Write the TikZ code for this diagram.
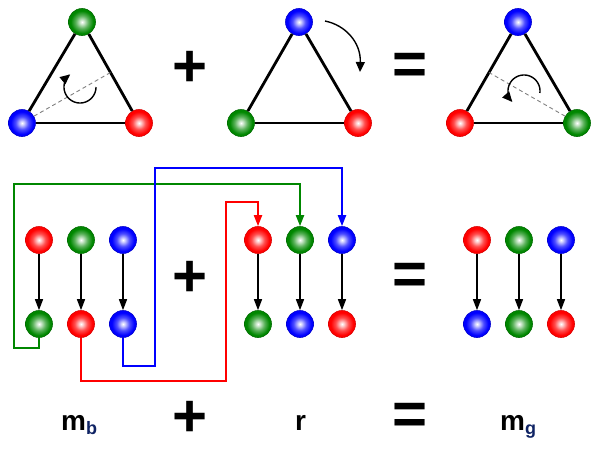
\documentclass[tikz,border=0pt]{standalone}
\usepackage{fontspec}
\setmainfont{Liberation Sans}
\usetikzlibrary{arrows.meta,calc}
\definecolor{bred}{RGB}{255,0,0}
\definecolor{bgreen}{RGB}{0,135,0}
\definecolor{bblue}{RGB}{0,0,255}
\definecolor{subc}{RGB}{15,35,100}
\pgfdeclareradialshading{redball}{\pgfpoint{0bp}{0bp}}{color(0bp)=(white); color(3bp)=(white!85!bred); color(12bp)=(bred!70!white); color(21bp)=(bred); color(50bp)=(bred)}
\pgfdeclareradialshading{greenball}{\pgfpoint{0bp}{0bp}}{color(0bp)=(white); color(3bp)=(white!85!bgreen); color(12bp)=(bgreen!65!white); color(21bp)=(bgreen); color(50bp)=(bgreen)}
\pgfdeclareradialshading{blueball}{\pgfpoint{0bp}{0bp}}{color(0bp)=(white); color(3bp)=(white!85!bblue); color(12bp)=(bblue!70!white); color(21bp)=(bblue); color(50bp)=(bblue)}
\tikzset{
  ball/.style={circle, minimum size=27pt, inner sep=0pt, line width=0.6pt},
  rb/.style={ball, shading=redball, draw=bred!85!black},
  gb/.style={ball, shading=greenball, draw=bgreen!80!black},
  bb/.style={ball, shading=blueball, draw=bblue!80!black},
  tri/.style={line width=2.8pt},
  axis/.style={line width=0.9pt, draw=gray, dash pattern=on 4pt off 3pt},
  rot/.style={line width=1.4pt, -{Triangle[length=10pt,width=9pt]}},
  seq/.style={line width=1.4pt, -{Triangle[length=11pt,width=8pt]}},
  wire/.style={line width=1.8pt, -{Triangle[length=11pt,width=8pt]}},
  op/.style={font=\fontsize{60}{60}\selectfont\bfseries, inner sep=0pt},
  lab/.style={font=\fontsize{28}{30}\selectfont\bfseries, anchor=base west, inner sep=0pt}
}
\newcommand{\subl}[1]{{\fontsize{18}{18}\selectfont\raisebox{-4pt}{\color{subc}#1}}}
\begin{document}
\begin{tikzpicture}[x=1pt,y=-1pt]
\useasboundingbox (0,0) rectangle (600,458);
% ---------- top row: triangles ----------
\node[gb] (T1g) at (82,22) {};
\node[bb] (T1b) at (22,123) {};
\node[rb] (T1r) at (139,123) {};
\draw[tri] (T1g) -- (T1b);
\draw[tri] (T1g) -- (T1r);
\draw[tri] (T1b) -- (T1r);
\coordinate (M1) at ($(T1g)!0.5!(T1r)$);
\draw[axis] (T1b) -- (M1);
\draw[rot] plot[domain=0:232, samples=50, smooth] ({80+16*cos(\x)},{87+16*sin(\x)});

\node[op] (P1) at (190,69) {+};

\node[bb] (T2b) at (299,22) {};
\node[gb] (T2g) at (241,123) {};
\node[rb] (T2r) at (358,123) {};
\draw[tri] (T2b) -- (T2g);
\draw[tri] (T2b) -- (T2r);
\draw[tri] (T2g) -- (T2r);
\draw[rot] (325,21) .. controls (345,25) and (361,42) .. (360,72);

\node[op] (E1) at (410,69) {=};

\node[bb] (T3b) at (518,22) {};
\node[rb] (T3r) at (460,123) {};
\node[gb] (T3g) at (577,123) {};
\draw[tri] (T3b) -- (T3r);
\draw[tri] (T3b) -- (T3g);
\draw[tri] (T3r) -- (T3g);
\coordinate (M3) at ($(T3b)!0.5!(T3r)$);
\draw[axis] (T3g) -- (M3);
\draw[rot] plot[domain=-7:223, samples=50, smooth] ({524+16*cos(-\x)},{91+16*sin(-\x)});

% ---------- middle row: sequences ----------
\node[rb] (A1) at (39,240) {};
\node[gb] (A2) at (81,240) {};
\node[bb] (A3) at (123,240) {};
\node[gb] (a1) at (39,324) {};
\node[rb] (a2) at (81,324) {};
\node[bb] (a3) at (123,324) {};
\draw[seq] (A1) -- (a1);
\draw[seq] (A2) -- (a2);
\draw[seq] (A3) -- (a3);

\node[op] (P2) at (190,279) {+};

\node[rb] (B1) at (258,240) {};
\node[gb] (B2) at (300,240) {};
\node[bb] (B3) at (342,240) {};
\node[gb] (b1) at (258,324) {};
\node[bb] (b2) at (300,324) {};
\node[rb] (b3) at (342,324) {};
\draw[seq] (B1) -- (b1);
\draw[seq] (B2) -- (b2);
\draw[seq] (B3) -- (b3);

\node[op] (E2) at (410,279) {=};

\node[rb] (C1) at (477,240) {};
\node[gb] (C2) at (519,240) {};
\node[bb] (C3) at (561,240) {};
\node[bb] (c1) at (477,324) {};
\node[gb] (c2) at (519,324) {};
\node[rb] (c3) at (561,324) {};
\draw[seq] (C1) -- (c1);
\draw[seq] (C2) -- (c2);
\draw[seq] (C3) -- (c3);

% ---------- wires ----------
\draw[wire, color=bred] (a2) -- (81,381) -- (226,381) -- (226,202) -| (B1);
\draw[wire, color=bgreen] (a1) -- (39,348) -- (14,348) -- (14,184) -| (B2);
\draw[wire, color=bblue] (a3) -- (123,366) -- (155,366) -- (155,168) -| (B3);

% ---------- bottom labels ----------
\node[lab] (Lmb) at (61,430) {m\subl{b}};
\node[op] (P3) at (190,418.5) {+};
\node[lab] (Lr) at (295,430) {r};
\node[op] (E3) at (410,418.5) {=};
\node[lab] (Lmg) at (500,430) {m\subl{g}};
\end{tikzpicture}
\end{document}
